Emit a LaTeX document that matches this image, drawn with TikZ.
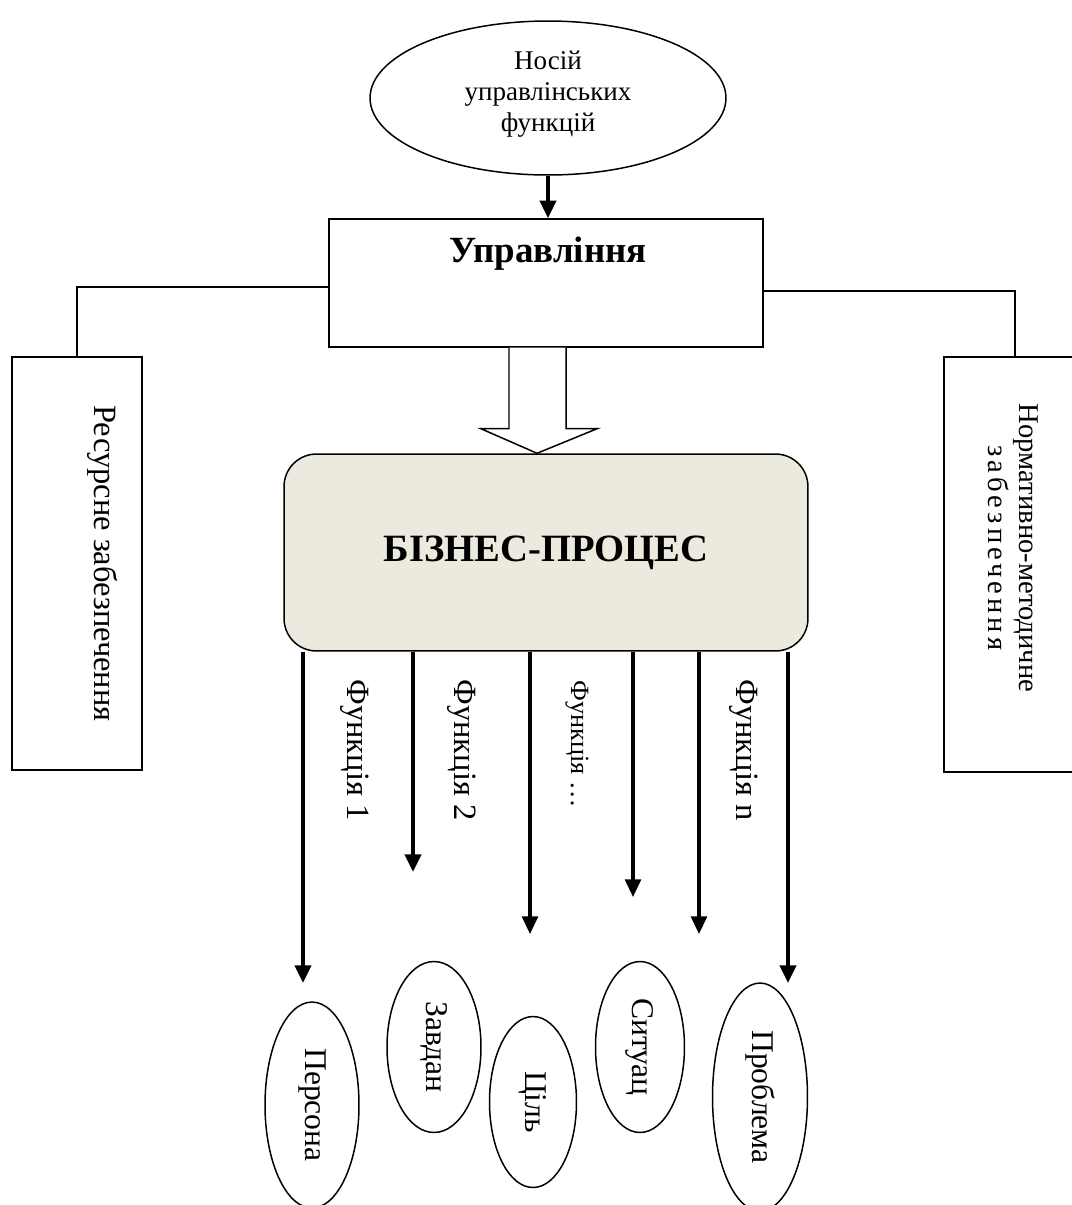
\documentclass[tikz,border=0pt]{standalone}
\usepackage{fontspec}
\setmainfont{Liberation Serif}
\usetikzlibrary{arrows.meta, positioning, shapes.geometric, calc}
\definecolor{bizfill}{RGB}{236,233,222}

\begin{document}
\begin{tikzpicture}[x=0.02cm, y=-0.02cm,
    box/.style={draw, line width=0.85pt, inner sep=0pt},
    oval/.style={draw, ellipse, line width=0.85pt, inner sep=0pt, font=\fontsize{18}{20}\selectfont},
    vlbl/.style={rotate=-90, inner sep=0pt, font=\fontsize{18.5}{21}\selectfont},
    link/.style={line width=0.75pt},
    arr/.style={-{Triangle[length=10pt, width=9pt]}, line width=2.4pt},
    hollow/.style={draw, line width=0.85pt, fill=white}]
  \useasboundingbox (0,0) rectangle (1072,1205);
  \node[oval, minimum width=7.12cm, minimum height=3.08cm, align=center,
        font=\fontsize{15.4}{17.6}\selectfont] (nosiy) at (548,98) {Носій\\управлінських\\функцій\\[-0.35cm]};
  \node[box, minimum width=8.68cm, minimum height=2.56cm] (upr) at (546,283) {};
  \node[font=\fontsize{21}{24}\selectfont\bfseries] (upr-t) at (548,254) {Управління};
  \draw[arr, line width=2.3pt] (nosiy.south) -- (nosiy.south |- upr.north);

  % supporting boxes
  \node[box, minimum width=2.6cm, minimum height=8.26cm] (res) at (77,563.5) {};
  \node[vlbl] (res-t) at ([xshift=0.52cm]res.center) {Ресурсне забезпечення};
  \node[box, minimum width=2.84cm, minimum height=8.3cm] (norm) at (1015,564.5) {};
  \node[vlbl, align=center, font=\fontsize{16.3}{17.5}\selectfont] (norm-t) at ([xshift=-0.04cm, yshift=0.33cm]norm.center)
    {Нормативно-методичне\\{\addfontfeature{LetterSpace=14}забезпечення}};
  \draw[link] ([yshift=-0.08cm]upr.west) -| (res.north);
  \draw[link] ([yshift=-0.16cm]upr.east) -| (norm.north);

  \node[box, rounded corners=0.65cm, fill=bizfill, minimum width=10.48cm, minimum height=3.94cm,
        font=\fontsize{22}{26}\selectfont\bfseries] (biz) at (546,552.5) {БІЗНЕС-ПРОЦЕС};
  \draw[hollow] ($(upr.south)+(-37,0)$) -- ++(0,81) -- ++(-28,0) -- ($(biz.north)+(-9,0)$)
    -- ($(upr.south)+(51,81)$) -- ++(-31,0) -- ($(upr.south)+(20,0)$);

  % functions
  \foreach \i/\x/\y/\w in {1/303/983/2.4pt, 2/413/872/2.4pt, 3/530/934/1.8pt,
                           4/633/897/1.8pt, 5/699/934/1.8pt, 6/788/983/2.4pt} {
    \coordinate (end\i) at (\x,\y);
    \draw[arr, line width=\w] (end\i |- biz.south) -- (end\i);
  }
  \node[vlbl] (f1) at (355,750) {Функція 1};
  \node[vlbl] (f2) at (462,750) {Функція 2};
  \node[vlbl, font=\fontsize{15}{17}\selectfont] (f3) at (577,744) {Функція …};
  \node[vlbl] (fn) at (744,750) {Функція n};

  % objects
  \node[oval, rotate=-90, minimum width=4.12cm, minimum height=1.88cm] (pers) at (312,1105) {Персона};
  \node[oval, rotate=-90, minimum width=3.42cm, minimum height=1.88cm] (zavd) at (434,1047) {Завдан};
  \node[oval, rotate=-90, minimum width=3.42cm, minimum height=1.74cm] (cil) at (533,1102) {Ціль};
  \node[oval, rotate=-90, minimum width=3.42cm, minimum height=1.78cm] (sit) at (640,1047) {Ситуац};
  \node[oval, rotate=-90, minimum width=4.56cm, minimum height=1.9cm] (probl) at (760,1097) {Проблема};
\end{tikzpicture}
\end{document}
